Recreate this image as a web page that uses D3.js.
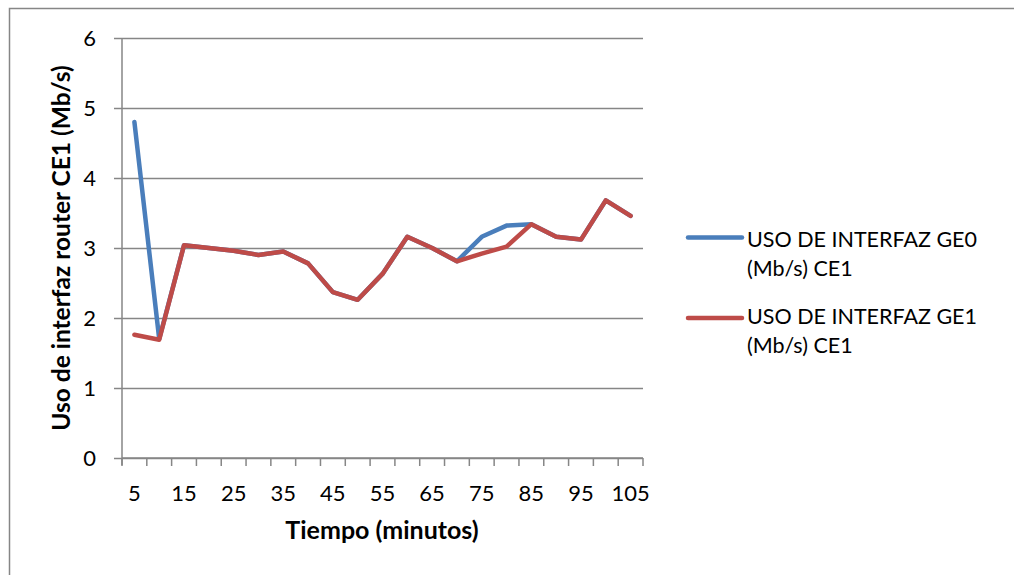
<!DOCTYPE html>
<html>
<head>
<meta charset="utf-8">
<script src="https://cdn.jsdelivr.net/npm/d3@7"></script>
<style>
  html, body { margin: 0; padding: 0; background: #fff; }
  svg { display: block; font-family: Lato, "Open Sans", sans-serif; }
</style>
</head>
<body>
<svg id="chart" width="1014" height="575"></svg>
<script>
// Interface usage of router CE1, sampled every 5 minutes
const minutes = [5, 10, 15, 20, 25, 30, 35, 40, 45, 50, 55, 60, 65, 70, 75, 80, 85, 90, 95, 100, 105];
const ge0 = [4.80, 1.70, 3.04, 3.00, 2.96, 2.90, 2.95, 2.78, 2.37, 2.26, 2.63, 3.16, 3.00, 2.81, 3.16, 3.32, 3.34, 3.16, 3.12, 3.68, 3.46];
const ge1 = [1.76, 1.69, 3.04, 3.00, 2.96, 2.90, 2.95, 2.78, 2.37, 2.26, 2.63, 3.16, 3.00, 2.81, 2.92, 3.02, 3.34, 3.16, 3.12, 3.68, 3.46];
const yTicks = [0, 1, 2, 3, 4, 5, 6];
const xLabels = [5, 15, 25, 35, 45, 55, 65, 75, 85, 95, 105];
const seriesNames = ["USO DE INTERFAZ GE0 (Mb/s) CE1", "USO DE INTERFAZ GE1 (Mb/s) CE1"];
const seriesColors = ["#4a7ebb", "#be4b48"];

const svg = d3.select("#chart");
const W = 1014, H = 575;

// chart frame
svg.append("rect")
  .attr("x", 9.5).attr("y", 8.5)
  .attr("width", W + 20).attr("height", H + 20)
  .attr("fill", "#fff").attr("stroke", "#868686").attr("stroke-width", 1.5);

const plot = { left: 122, right: 643, top: 38, bottom: 458 };

const x = d3.scaleBand().domain(minutes).range([plot.left, plot.right]);
const y = d3.scaleLinear().domain([0, 6]).range([plot.bottom, plot.top]);

const grid = "#868686";

// horizontal gridlines with left tick stubs
const yAxis = d3.axisLeft(y).tickValues(yTicks).tickSize(plot.right - plot.left + 8).tickFormat(d => d);
const gy = svg.append("g").attr("transform", `translate(${plot.right},0)`).call(yAxis);
gy.select(".domain").remove();
gy.selectAll(".tick line").attr("stroke", grid).attr("stroke-width", 1.5);
gy.selectAll(".tick text")
  .attr("x", -(plot.right - plot.left) - 26)
  .attr("dy", "0.36em")
  .attr("fill", "#000").attr("font-size", 22)
  .attr("font-family", "Lato, 'Open Sans', sans-serif");

// vertical value axis line
svg.append("line")
  .attr("x1", plot.left).attr("x2", plot.left)
  .attr("y1", plot.top).attr("y2", plot.bottom + 7)
  .attr("stroke", grid).attr("stroke-width", 1.5);

// category axis: tick marks at band boundaries
const bounds = minutes.map(m => x(m)).concat([x(minutes[minutes.length - 1]) + x.bandwidth()]);
svg.append("g").selectAll("line").data(bounds).join("line")
  .attr("x1", d => d).attr("x2", d => d)
  .attr("y1", plot.bottom).attr("y2", plot.bottom + 8)
  .attr("stroke", grid).attr("stroke-width", 1.5);
svg.append("line")
  .attr("x1", plot.left).attr("x2", plot.right)
  .attr("y1", plot.bottom).attr("y2", plot.bottom)
  .attr("stroke", grid).attr("stroke-width", 1.5);

// category labels (every other one)
svg.append("g").selectAll("text").data(xLabels).join("text")
  .attr("x", d => x(d) + x.bandwidth() / 2)
  .attr("y", 501)
  .attr("text-anchor", "middle")
  .attr("font-size", 22)
  .text(d => d);

// axis titles
svg.append("text")
  .attr("x", 382).attr("y", 539)
  .attr("text-anchor", "middle").attr("font-size", 25).attr("font-weight", "bold")
  .text("Tiempo (minutos)");
svg.append("text")
  .attr("transform", `translate(70,${(plot.top + plot.bottom) / 2}) rotate(-90)`)
  .attr("text-anchor", "middle").attr("font-size", 24.5).attr("font-weight", "bold")
  .text("Uso de interfaz router CE1 (Mb/s)");

// series lines
const line = d3.line()
  .x((d, i) => x(minutes[i]) + x.bandwidth() / 2)
  .y(d => y(d));
[ge0, ge1].forEach((s, k) => {
  svg.append("path")
    .datum(s)
    .attr("d", line)
    .attr("fill", "none")
    .attr("stroke", seriesColors[k])
    .attr("stroke-width", 4.5)
    .attr("stroke-linejoin", "round")
    .attr("stroke-linecap", "round");
});

// legend
const legendY = [237.5, 318];
const legendBase = [9, 6];
seriesNames.forEach((name, k) => {
  const g = svg.append("g").attr("transform", `translate(0,${legendY[k]})`);
  g.append("line")
    .attr("x1", 688).attr("x2", 742).attr("y1", 0).attr("y2", 0)
    .attr("stroke", seriesColors[k]).attr("stroke-width", 4.5)
    .attr("stroke-linecap", "round");
  const parts = [name.slice(0, 19), name.slice(20)];
  parts.forEach((p, j) => {
    g.append("text")
      .attr("x", 747).attr("y", legendBase[k] + j * 29)
      .attr("font-size", 21.5)
      .text(p);
  });
});
</script>
</body>
</html>
